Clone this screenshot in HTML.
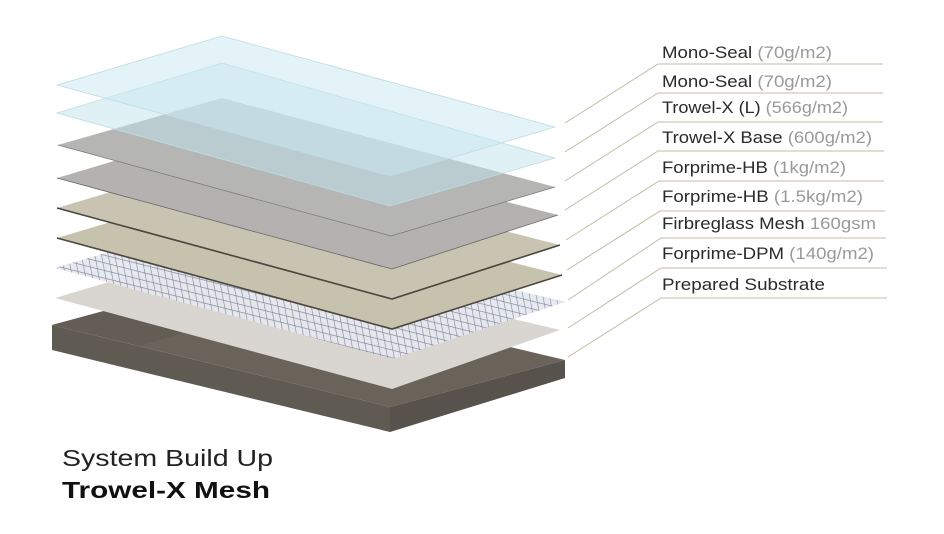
<!DOCTYPE html>
<html><head><meta charset="utf-8"><style>
html,body{margin:0;padding:0;background:#fff;width:944px;height:534px;overflow:hidden}
svg{display:block}
</style></head><body>
<svg width="944" height="534" viewBox="0 0 944 534" xmlns="http://www.w3.org/2000/svg">
<defs>
<pattern id="mesh" width="1" height="1" patternUnits="userSpaceOnUse" patternTransform="matrix(7 1.75 1.5 8 0 0)">
<rect width="1" height="1" fill="#e6e8ef"/>
<path d="M0 0H1M0 0V1" stroke="#7a8193" stroke-width="0.18"/>
</pattern>
</defs>
<!-- slab -->
<polygon points="52,325 52,350 390,432 390,407" fill="#5f5a52"/>
<polygon points="390,407 390,432 565,378 565,360" fill="#57524b"/>
<polygon points="52,325 222,279 565,360 390,407" fill="#69635a"/>
<polygon points="52,325 222,279 300,297 140,346" fill="#5f5a52" opacity="0.6"/>
<!-- DPM -->
<polygon points="55,298 220,249 560,330 392,389" fill="#d9d5d0"/>
<!-- mesh -->
<polygon points="55,268 220,219 565,302 392,359" fill="url(#mesh)" opacity="0.95"/>
<!-- forprime 1.5 -->
<polygon points="57,238 222,189 562,275 392,329" fill="#c7c2ae"/>
<polyline points="57,238 392,329 562,275" fill="none" stroke="#4a463e" stroke-width="1.6"/>
<!-- forprime 1 -->
<polygon points="57,208 222,159 560,245 392,299" fill="#c9c4b1"/>
<polyline points="57,208 392,299 560,245" fill="none" stroke="#4a463e" stroke-width="1.6"/>
<!-- trowel base -->
<polygon points="57,178 222,129 558,215 392,269" fill="#b3b2b1"/>
<polyline points="57,178 392,269 558,215" fill="none" stroke="#666" stroke-width="0.8"/>
<!-- trowel L -->
<polygon points="58,145 222,98 555,187 391,236" fill="#b5b5b4"/>
<polyline points="58,145 391,236 555,187" fill="none" stroke="#777" stroke-width="0.7"/>
<!-- mono seal 2 -->
<polygon points="57,113 222,63 555,158 390,206" fill="#c2e4ec" fill-opacity="0.5" stroke="#bcdde4" stroke-width="0.8"/>
<!-- mono seal 1 -->
<polygon points="57,85 222,36 555,127 390,176" fill="#c9e8ef" fill-opacity="0.5" stroke="#bcdde4" stroke-width="0.8"/>
<!-- leaders & labels -->
<g stroke="#c4baa6" stroke-width="1" fill="none">
<polyline points="565,123 658,64 883,64"/>
<polyline points="565,152 658,93 883,93"/>
<polyline points="565,181 658,122 883,122"/>
<polyline points="565,210 658,151 884,151"/>
<polyline points="566,240 659,181 884,181"/>
<polyline points="567,270 660,211 885,211"/>
<polyline points="568,300 661,238 886,238"/>
<polyline points="568,328 661,268 887,268"/>
<polyline points="568,357 661,298 887,298"/>
</g>
<g font-family="Liberation Sans, sans-serif" font-size="17" fill="#2a2a2a" lengthAdjust="spacingAndGlyphs">
<text x="662" y="58" textLength="170" lengthAdjust="spacingAndGlyphs">Mono-Seal <tspan fill="#9a9a9a">(70g/m2)</tspan></text>
<text x="662" y="87" textLength="170" lengthAdjust="spacingAndGlyphs">Mono-Seal <tspan fill="#9a9a9a">(70g/m2)</tspan></text>
<text x="662" y="113" textLength="186" lengthAdjust="spacingAndGlyphs">Trowel-X (L) <tspan fill="#9a9a9a">(566g/m2)</tspan></text>
<text x="662" y="143" textLength="210" lengthAdjust="spacingAndGlyphs">Trowel-X Base <tspan fill="#9a9a9a">(600g/m2)</tspan></text>
<text x="662" y="173" textLength="184" lengthAdjust="spacingAndGlyphs">Forprime-HB <tspan fill="#9a9a9a">(1kg/m2)</tspan></text>
<text x="662" y="202" textLength="201" lengthAdjust="spacingAndGlyphs">Forprime-HB <tspan fill="#9a9a9a">(1.5kg/m2)</tspan></text>
<text x="662" y="229" textLength="214" lengthAdjust="spacingAndGlyphs">Firbreglass Mesh <tspan fill="#9a9a9a">160gsm</tspan></text>
<text x="662" y="259" textLength="212" lengthAdjust="spacingAndGlyphs">Forprime-DPM <tspan fill="#9a9a9a">(140g/m2)</tspan></text>
<text x="662" y="290" textLength="163" lengthAdjust="spacingAndGlyphs">Prepared Substrate</text>
</g>
<text x="62" y="466" font-family="Liberation Sans, sans-serif" font-size="23" fill="#222" textLength="211" lengthAdjust="spacingAndGlyphs">System Build Up</text>
<text x="62" y="498" font-family="Liberation Sans, sans-serif" font-size="23" font-weight="bold" fill="#111" textLength="208" lengthAdjust="spacingAndGlyphs">Trowel-X Mesh</text>
</svg>
</body></html>
